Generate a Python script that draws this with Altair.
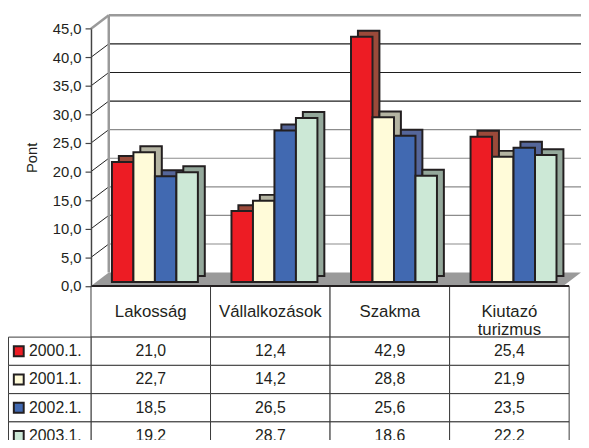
import altair as alt
import pandas as pd

# ---------------- data ----------------
categories = ["Lakosság", "Vállalkozások", "Szakma", "Kiutazó turizmus"]
series = ["2000.1.", "2001.1.", "2002.1.", "2003.1."]
values_2000 = [21.0, 12.4, 42.9, 25.4]
values_2001 = [22.7, 14.2, 28.8, 21.9]
values_2002 = [18.5, 26.5, 25.6, 23.5]
values_2003 = [19.2, 28.7, 18.6, 22.2]
y_ticks = [0, 5, 10, 15, 20, 25, 30, 35, 40, 45]
y_title = "Pont"

# ---------------- styles ----------------
front_colors = ["#ed1c24", "#fffbd9", "#4169b1", "#cce8d6"]
depth_colors = ["#9b4a3a", "#b4b4a2", "#55669a", "#94a89b"]
FONT = "Liberation Sans, Arial, sans-serif"
TXT = "#231f20"
LINE = "#3a3a3a"

rows = []
for s, vals in zip(series, [values_2000, values_2001, values_2002, values_2003]):
    for c, v in zip(categories, vals):
        rows.append({"cat": c, "series": s, "value": v})
df = pd.DataFrame(rows)
cat_df = pd.DataFrame({"cat": categories})
ser_df = pd.DataFrame({"series": series})
tick_df = pd.DataFrame({"tick": y_ticks})
frame_df = pd.DataFrame({"top": [max(y_ticks)], "bottom": [min(y_ticks)]})

# ---------------- layout (plot coords) ----------------
W, H = 580, 432
AX = 84            # x of the value axis
DX, DY = 18, 13.5  # depth of the back wall
WALL_R = 580
Y0, Y45 = 278.7, 18.3
LAB_C = (0.5 + AX) / 2

y_axis_scale = alt.Scale(domain=[0, 45], range=[Y0, Y45], nice=False)
cat_scale = alt.Scale(domain=categories, range=[AX, AX + 484], paddingInner=0, paddingOuter=0)
bx_front = alt.Scale(domain=categories, range=[AX + 4.2, AX + 488.2], paddingInner=0.281, paddingOuter=0.1405)
bx_back = alt.Scale(domain=categories, range=[AX + 11.2, AX + 495.2], paddingInner=0.281, paddingOuter=0.1405)
by_front = alt.Scale(domain=[0, 45], range=[Y0 - 4, Y45 - 4], nice=False)
by_back = alt.Scale(domain=[0, 45], range=[Y0 - 10, Y45 - 10], nice=False)
off_scale = alt.Scale(domain=series, paddingInner=0, paddingOuter=0)
hdr_scale = alt.Scale(domain=["h"], range=[279, 330.5], paddingInner=0, paddingOuter=0)
row_scale = alt.Scale(domain=series, range=[330.5, 330.5 + 4 * 28.6], paddingInner=0, paddingOuter=0)
label_scale = alt.Scale(domain=["label"], range=[0.5, AX], paddingInner=0, paddingOuter=0)

# floor (parallelogram)
floor = alt.Chart(frame_df).mark_point(
    shape=f"M0,0L{DX},{-DY}L{WALL_R - AX},{-DY}L{WALL_R - AX - DX},0Z",
    size=4, filled=True, color="#9a9a9a", opacity=1, strokeWidth=0
).encode(x=alt.value(AX), y=alt.Y("bottom:Q", scale=y_axis_scale, axis=None))

# back wall gridlines
grid = alt.Chart(tick_df).transform_filter("datum.tick > 0 && datum.tick < 45").mark_rule(
    yOffset=-DY, strokeWidth=1.2
).encode(
    x=alt.value(AX + DX), x2=alt.value(WALL_R),
    y=alt.Y("tick:Q", scale=y_axis_scale, axis=None),
    color=alt.condition("datum.tick >= 30", alt.value("#1e1e1e"), alt.value("#8c8c8c")),
)

# diagonals + the value axis
diag = alt.Chart(tick_df).transform_filter("datum.tick > 0 && datum.tick < 45").mark_rule(
    y2Offset=-DY, strokeWidth=1, color="#1e1e1e"
).encode(
    x=alt.value(AX), x2=alt.value(AX + DX),
    y=alt.Y("tick:Q", scale=y_axis_scale, axis=alt.Axis(
        orient="left", offset=-AX, values=y_ticks, title=y_title,
        labelExpr="replace(format(datum.value, '.1f'), '.', ',')",
        labelFont=FONT, labelFontSize=15, labelColor=TXT, labelPadding=4,
        tickSize=6, tickColor="#444", tickWidth=1.2,
        domainColor="#444", domainWidth=1.5, grid=False,
        titleFont=FONT, titleFontSize=15, titleFontWeight="normal", titleColor=TXT,
        titlePadding=13, zindex=1,
    )),
    y2=alt.Y2("tick:Q"),
)

# wall edges (gray)
wall_top = alt.Chart(frame_df).mark_rule(yOffset=-DY, strokeWidth=2.5, color="#9a9a9a").encode(
    x=alt.value(AX + DX), x2=alt.value(WALL_R), y=alt.Y("top:Q", scale=y_axis_scale, axis=None))
wall_left = alt.Chart(frame_df).mark_rule(yOffset=-DY, y2Offset=-DY, strokeWidth=2.5, color="#9a9a9a").encode(
    x=alt.value(AX + DX), y=alt.Y("top:Q", scale=y_axis_scale, axis=None), y2=alt.Y2("bottom:Q"))
wall_diag = alt.Chart(frame_df).mark_rule(y2Offset=-DY, strokeWidth=2.5, color="#9a9a9a").encode(
    x=alt.value(AX), x2=alt.value(AX + DX), y=alt.Y("top:Q", scale=y_axis_scale, axis=None), y2=alt.Y2("top:Q"))

# bars: depth faces then front faces
back = alt.Chart(df).mark_bar(stroke=TXT, strokeWidth=2, opacity=1).encode(
    x=alt.X("cat:N", scale=bx_back, axis=None, sort=categories),
    xOffset=alt.XOffset("series:N", scale=off_scale, sort=series),
    y=alt.Y("value:Q", scale=by_back, axis=None),
    fill=alt.Fill("series:N", scale=alt.Scale(domain=series, range=depth_colors), legend=None),
)
front = alt.Chart(df).mark_bar(stroke=TXT, strokeWidth=2, opacity=1).encode(
    x=alt.X("cat:N", scale=bx_front, axis=None, sort=categories),
    xOffset=alt.XOffset("series:N", scale=off_scale, sort=series),
    y=alt.Y("value:Q", scale=by_front, axis=None),
    fill=alt.Fill("series:N", scale=alt.Scale(domain=series, range=front_colors), legend=None),
)

# data table
hdr = alt.Chart(cat_df).transform_calculate(row="'h'")
hdr_rect = hdr.mark_rect(fill="white", stroke=LINE, strokeWidth=1).encode(
    x=alt.X("cat:N", scale=cat_scale, axis=None, sort=categories),
    y=alt.Y("row:N", scale=hdr_scale, axis=None))
hdr_text = hdr.mark_text(lineBreak=" ", font=FONT, fontSize=17, color=TXT, lineHeight=19).encode(
    x=alt.X("cat:N", scale=cat_scale, axis=None, sort=categories),
    y=alt.Y("row:N", scale=hdr_scale, axis=None), text="cat:N")

table_top = alt.Chart(frame_df).mark_rule(strokeWidth=2, color=TXT).encode(
    x=alt.value(AX), x2=alt.value(AX + 484), y=alt.Y("bottom:Q", scale=y_axis_scale, axis=None))

cells = alt.Chart(df).transform_calculate(lbl="replace(format(datum.value, '.1f'), '.', ',')")
cell_rect = cells.mark_rect(fill="white", stroke=LINE, strokeWidth=1).encode(
    x=alt.X("cat:N", scale=cat_scale, axis=None, sort=categories),
    y=alt.Y("series:N", scale=row_scale, axis=None))
cell_text = cells.mark_text(font=FONT, fontSize=16, color=TXT).encode(
    x=alt.X("cat:N", scale=cat_scale, axis=None, sort=categories),
    y=alt.Y("series:N", scale=row_scale, axis=None), text="lbl:N")

lab = alt.Chart(ser_df).transform_calculate(col="'label'")
lab_rect = lab.mark_rect(fill="white", stroke=LINE, strokeWidth=1).encode(
    x=alt.X("col:N", scale=label_scale, axis=None),
    y=alt.Y("series:N", scale=row_scale, axis=None))
lab_sq = lab.mark_square(size=100, stroke=TXT, strokeWidth=2, opacity=1, xOffset=10.9 - LAB_C).encode(
    x=alt.X("col:N", scale=label_scale, axis=None),
    y=alt.Y("series:N", scale=row_scale, axis=None),
    fill=alt.Fill("series:N", scale=alt.Scale(domain=series, range=front_colors), legend=None))
lab_text = lab.mark_text(align="left", dx=21.3 - LAB_C, font=FONT, fontSize=16, color=TXT).encode(
    x=alt.X("col:N", scale=label_scale, axis=None),
    y=alt.Y("series:N", scale=row_scale, axis=None), text="series:N")

chart = alt.layer(
    floor, grid, diag, wall_top, wall_left, wall_diag, back, front,
    hdr_rect, hdr_text, cell_rect, cell_text, lab_rect, lab_sq, lab_text, table_top,
).resolve_scale(
    x="independent", y="independent", xOffset="independent", fill="independent"
).properties(
    width=W, height=H, padding=0, autosize=alt.AutoSizeParams(type="none"),
    background="white",
).configure_view(stroke=None)

chart.save("out.html", embed_options={"renderer": "svg", "actions": False})
